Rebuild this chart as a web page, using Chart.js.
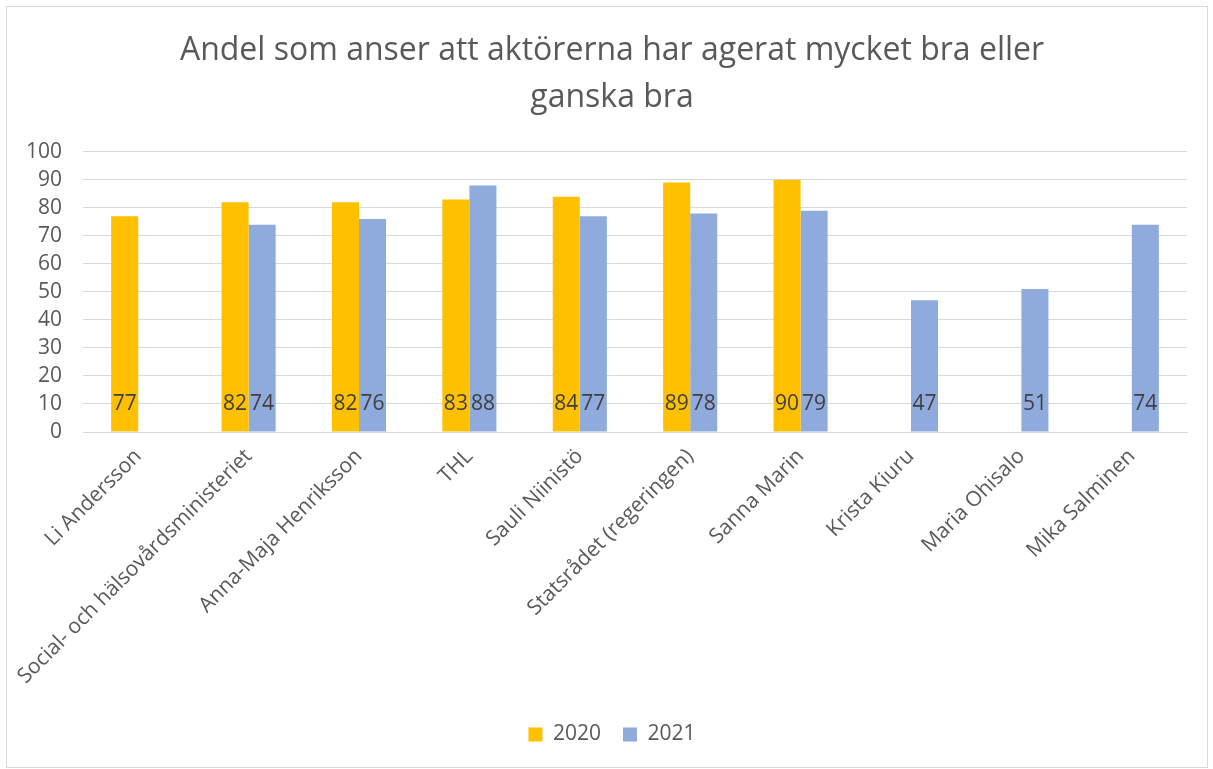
<!DOCTYPE html>
<html>
<head>
<meta charset="utf-8">
<script src="https://cdn.jsdelivr.net/npm/chart.js@4.4.0/dist/chart.umd.min.js"></script>
<style>
  body { margin: 0; background: #fff; }
  #wrap { position: absolute; left: 6px; top: 6px; width: 1200px; height: 760px; border: 1px solid #d9d9d9; }
  canvas { display: block; }
</style>
</head>
<body>
<div id="wrap"><canvas id="badCanvas1" width="1200" height="760"></canvas></div>
<script>
const categories = ["Li Andersson", "Social- och hälsovårdsministeriet", "Anna-Maja Henriksson", "THL",
  "Sauli Niinistö", "Statsrådet (regeringen)", "Sanna Marin", "Krista Kiuru", "Maria Ohisalo", "Mika Salminen"];
const values2020 = [77, 82, 82, 83, 84, 89, 90, null, null, null];
const values2021 = [null, 74, 76, 88, 77, 78, 79, 47, 51, 74];
const yTicks = [0, 10, 20, 30, 40, 50, 60, 70, 80, 90, 100];
const titleLines = ["Andel som anser att aktörerna har agerat mycket bra eller", "ganska bra"];

const fontFam = "'Open Sans', 'Noto Sans', sans-serif";
const grey = "#595959";

// values written at the 10 level, like Excel's "inside base"
const barLabels = {
  id: "barLabels",
  afterDatasetsDraw(chart) {
    const ctx = chart.ctx;
    ctx.save();
    ctx.font = "21px " + fontFam;
    ctx.fillStyle = "#404040";
    ctx.textAlign = "center";
    ctx.textBaseline = "middle";
    chart.data.datasets.forEach((ds, i) => {
      chart.getDatasetMeta(i).data.forEach((bar, j) => {
        if (ds.data[j] == null) return;
        ctx.fillText(String(ds.data[j]), bar.x, chart.scales.y.getPixelForValue(10));
      });
    });
    ctx.restore();
  },
};

new Chart(document.getElementById("badCanvas1"), {
  type: "bar",
  data: {
    labels: categories,
    datasets: [
      { label: "2020", data: values2020, backgroundColor: "#FFC000" },
      { label: "2021", data: values2021, backgroundColor: "#8FAADC" },
    ],
  },
  options: {
    responsive: false,
    animation: false,
    layout: { padding: { left: 30, right: 20, top: 21, bottom: 12 } },
    datasets: { bar: { barPercentage: 1, categoryPercentage: 0.49 } },
    scales: {
      x: {
        grid: { display: false },
        border: { color: "#d9d9d9" },
        ticks: { color: grey, font: { family: fontFam, size: 21 }, minRotation: 45, maxRotation: 45, padding: 4 },
        afterFit: (s) => { s.height = 270; },
      },
      y: {
        min: 0,
        max: 100,
        afterBuildTicks: (s) => { s.ticks = yTicks.map((v) => ({ value: v })); },
        grid: { color: "#d9d9d9", drawTicks: false },
        border: { display: false },
        // mirrored so the labels are not clipped to the narrow axis box
        ticks: { color: grey, font: { family: fontFam, size: 21 }, mirror: true, crossAlign: "far", padding: -57, autoSkip: false },
        afterFit: (s) => { s.width = 46; },
      },
    },
    plugins: {
      title: {
        display: true,
        text: titleLines,
        color: grey,
        font: { family: fontFam, size: 32, weight: "normal", lineHeight: 1.45 },
        padding: { top: 0, bottom: 31 },
      },
      legend: {
        position: "bottom",
        labels: { color: grey, font: { family: fontFam, size: 21 }, boxWidth: 14, boxHeight: 14, padding: 22 },
      },
      tooltip: { enabled: false },
    },
  },
  plugins: [barLabels],
});
</script>
</body>
</html>
